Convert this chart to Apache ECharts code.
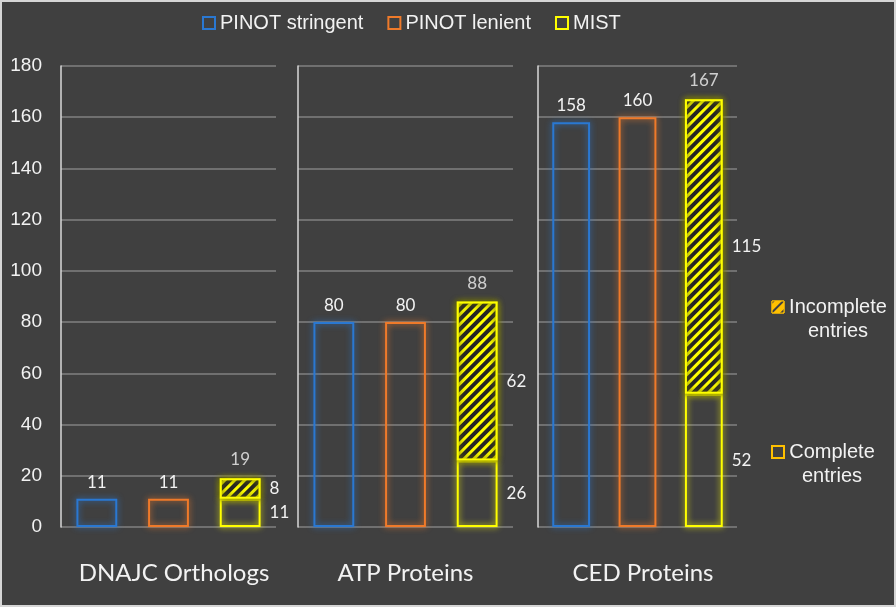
<!DOCTYPE html>
<html>
<head>
<meta charset="utf-8">
<script src="https://cdn.jsdelivr.net/npm/echarts@6/dist/echarts.min.js"></script>
<style>
  html, body { margin: 0; padding: 0; background: #404040; }
  #wrap { position: relative; width: 896px; height: 607px; }
  #chart { width: 896px; height: 607px; }
  #frame { position: absolute; left: 0; top: 0; width: 896px; height: 607px; box-sizing: border-box; border: 2px solid #d6d6d6; pointer-events: none; }
</style>
</head>
<body>
<div id="wrap"><div id="chart"></div><div id="frame"></div></div>
<script>
// ---- data ----
const panels = ['DNAJC Orthologs', 'ATP Proteins', 'CED Proteins'];
const barKinds = ['PINOT stringent', 'PINOT lenient', 'MIST'];
const pinotStringent = [11, 80, 158];
const pinotLenient = [11, 80, 160];
const mistComplete = [11, 26, 52];
const mistIncomplete = [8, 62, 115];
const mistTotal = [19, 88, 167];
const yTicks = [0, 20, 40, 60, 80, 100, 120, 140, 160, 180];

// ---- style ----
const BG = '#404040';
const BLUE = '#2a78d2';
const ORANGE = '#ef7a2a';
const YELLOW = '#ffff00';
const GOLD = '#ffc000';
const WHITE = '#f2f2f2';
const GRID_LINE = '#808080';
const AXIS_LINE = '#d9d9d9';

const gridBoxes = [
  { left: 61, width: 215 },
  { left: 298, width: 215 },
  { left: 538, width: 199 }
];
const nameShift = [11, 0, 11];

const chart = echarts.init(document.getElementById('chart'), null, { renderer: 'canvas' });

const grids = [], xAxes = [], yAxes = [], series = [];
const dataLabel = { color: WHITE, fontSize: 17, fontFamily: 'Lato' };

function onlyAt(idx, v) {
  return barKinds.map((k, j) => (j === idx ? v : '-'));
}

panels.forEach((p, i) => {
  grids.push({ left: gridBoxes[i].left, width: gridBoxes[i].width, top: 66, bottom: 80 });
  xAxes.push({
    type: 'category', gridIndex: i, data: barKinds,
    axisLine: { show: false }, axisTick: { show: false }, axisLabel: { show: false },
    name: p, nameLocation: 'middle', nameGap: 34,
    nameTextStyle: { color: WHITE, fontSize: 24, fontFamily: 'Lato', padding: [0, 0, 0, nameShift[i]] }
  });
  yAxes.push({
    type: 'value', gridIndex: i, min: yTicks[0], max: yTicks[yTicks.length - 1], interval: 20,
    axisLine: { show: true, lineStyle: { color: AXIS_LINE, width: 1.5 } },
    axisTick: { show: false },
    axisLabel: { show: i === 0, color: WHITE, fontSize: 19, fontFamily: 'Liberation Sans', margin: 19 },
    splitLine: { show: true, lineStyle: { color: GRID_LINE, width: 1.5 } }
  });
  const stack = 'st' + i;
  const common = { type: 'bar', xAxisIndex: i, yAxisIndex: i, stack: stack, barWidth: '57%' };
  series.push(Object.assign({}, common, {
    name: 'PINOT stringent', data: onlyAt(0, pinotStringent[i]),
    itemStyle: { color: 'transparent', borderColor: BLUE, borderWidth: 2, shadowBlur: 6, shadowColor: BLUE },
    label: Object.assign({ show: true, position: 'top', distance: 8 }, dataLabel)
  }));
  series.push(Object.assign({}, common, {
    name: 'PINOT lenient', data: onlyAt(1, pinotLenient[i]),
    itemStyle: { color: 'transparent', borderColor: ORANGE, borderWidth: 2, shadowBlur: 6, shadowColor: ORANGE },
    label: Object.assign({ show: true, position: 'top', distance: 8 }, dataLabel)
  }));
  series.push(Object.assign({}, common, {
    name: 'MIST', data: onlyAt(2, mistComplete[i]),
    itemStyle: { color: 'transparent', borderColor: YELLOW, borderWidth: 2, shadowBlur: 6, shadowColor: YELLOW },
    label: Object.assign({ show: true, position: 'right', distance: 9 }, dataLabel)
  }));
  series.push(Object.assign({}, common, {
    name: 'Incomplete entries', data: onlyAt(2, mistIncomplete[i]),
    itemStyle: {
      color: BG, borderColor: YELLOW, borderWidth: 2, shadowBlur: 6, shadowColor: YELLOW,
      decal: { symbol: 'rect', symbolSize: 1, color: YELLOW, dashArrayX: [1, 0], dashArrayY: [3, 4], rotation: -Math.PI / 4 }
    },
    label: Object.assign({ show: true, position: 'right', distance: 9 }, dataLabel)
  }));
  series.push({
    type: 'scatter', name: 'MIST total', xAxisIndex: i, yAxisIndex: i,
    data: onlyAt(2, mistTotal[i]), symbolSize: 0, silent: true,
    label: Object.assign({ show: true, position: 'top', distance: 10, formatter: '{c}' }, dataLabel)
  });
});
series.push({ type: 'bar', name: 'Complete entries', xAxisIndex: 0, yAxisIndex: 0, stack: 'st0', barWidth: '57%', data: [] });

const rightLegendText = {
  'Incomplete entries': '{i| }\n{i|Incomplete}\n{i|entries}',
  'Complete entries': '{c| }\n{c|Complete}\n{c|entries}'
};
const legendFont = { color: WHITE, fontSize: 20, fontFamily: 'Liberation Sans', lineHeight: 24, align: 'center' };

chart.setOption({
  backgroundColor: BG,
  animation: false,
  grid: grids,
  xAxis: xAxes,
  yAxis: yAxes,
  legend: [
    {
      left: 197, top: 8, itemWidth: 12, itemHeight: 12, itemGap: 24, icon: 'rect',
      selectedMode: false,
      textStyle: { color: WHITE, fontSize: 20, fontFamily: 'Liberation Sans' },
      data: [
        { name: 'PINOT stringent', itemStyle: { color: 'transparent', borderColor: BLUE, borderWidth: 2 } },
        { name: 'PINOT lenient', itemStyle: { color: 'transparent', borderColor: ORANGE, borderWidth: 2 } },
        { name: 'MIST', itemStyle: { color: 'transparent', borderColor: YELLOW, borderWidth: 2 } }
      ]
    },
    {
      left: 766, top: 268, orient: 'vertical', itemWidth: 12, itemHeight: 12, itemGap: 77, icon: 'rect',
      selectedMode: false,
      formatter: n => rightLegendText[n],
      textStyle: {
        color: WHITE, fontSize: 20, fontFamily: 'Liberation Sans',
        rich: {
          i: Object.assign({ width: 98 }, legendFont),
          c: Object.assign({ width: 86 }, legendFont)
        }
      },
      data: [
        { name: 'Incomplete entries', itemStyle: { color: GOLD, borderColor: GOLD, borderWidth: 1,
          decal: { symbol: 'rect', symbolSize: 1, color: BG, dashArrayX: [1, 0], dashArrayY: [2, 5], rotation: -Math.PI / 4 } } },
        { name: 'Complete entries', itemStyle: { color: 'transparent', borderColor: GOLD, borderWidth: 2 } }
      ]
    }
  ],
  series: series
});
</script>
</body>
</html>
